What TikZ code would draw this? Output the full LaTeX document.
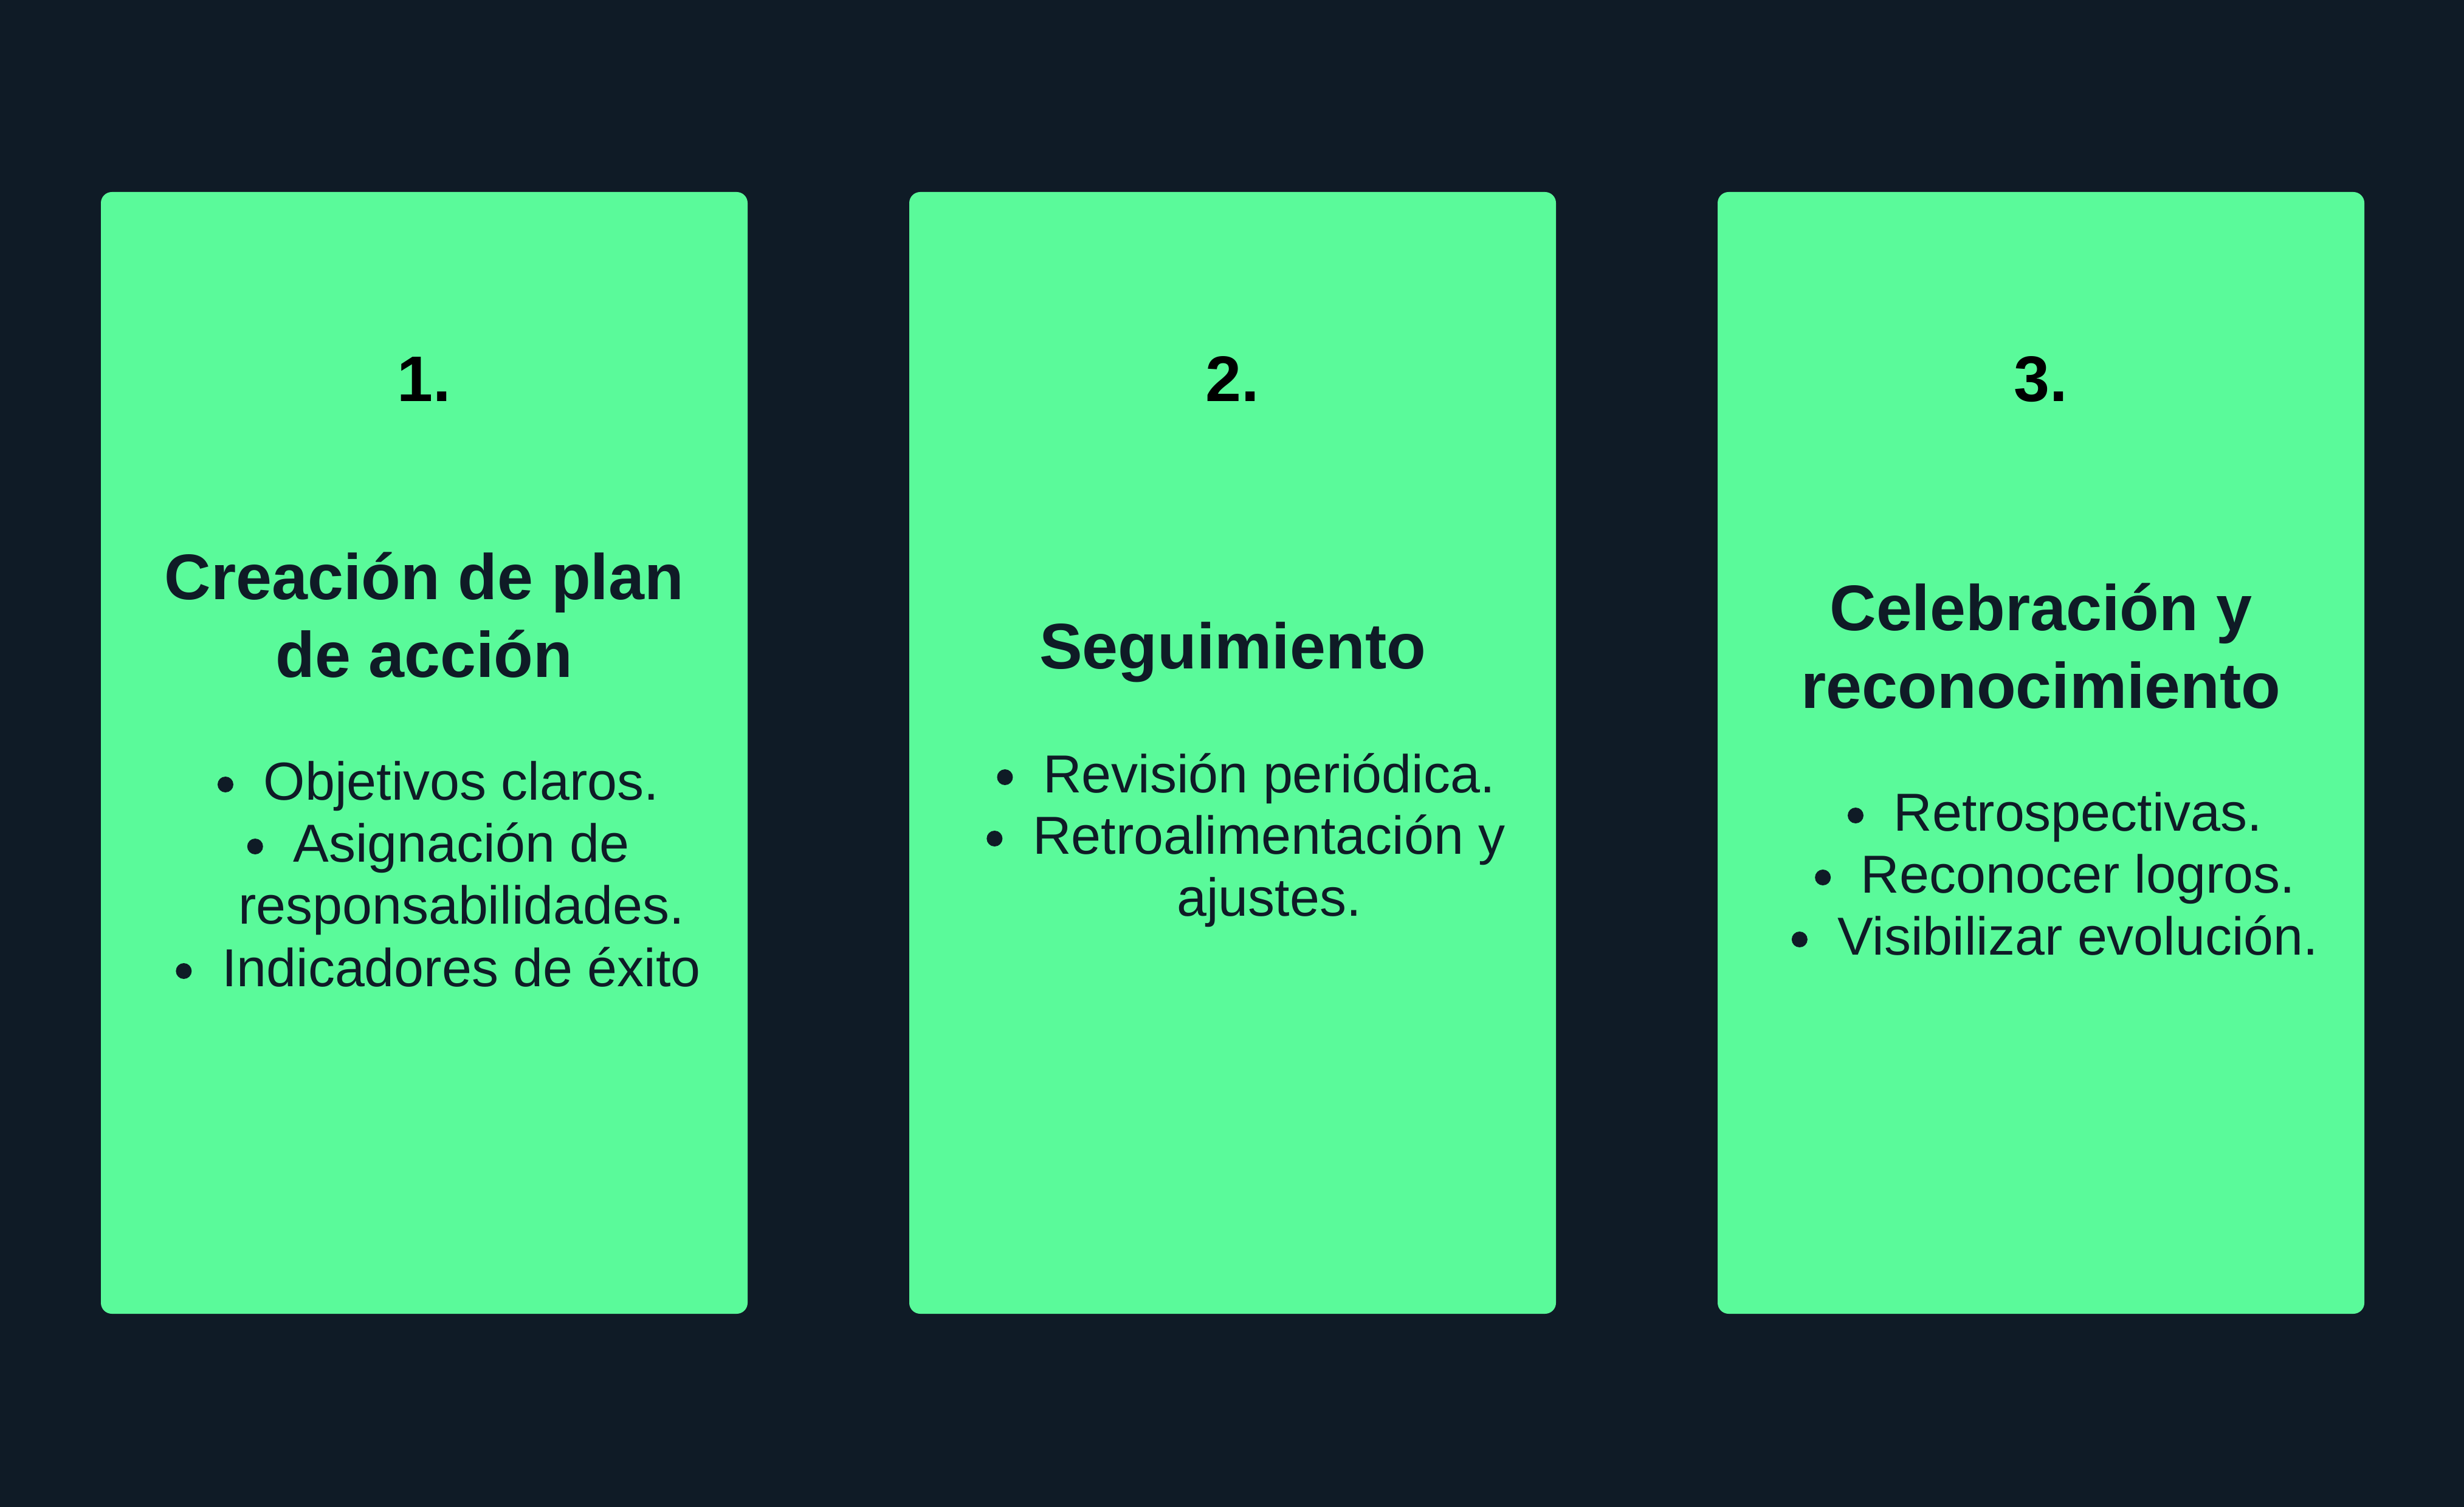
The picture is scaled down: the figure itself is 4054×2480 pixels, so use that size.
\documentclass[tikz,border=0pt]{standalone}
\usepackage{fontspec}
\setmainfont{Liberation Sans}
\usetikzlibrary{calc}
\definecolor{bgcol}{HTML}{0F1B26}
\definecolor{cardcol}{HTML}{5AFA9A}
\definecolor{inkcol}{HTML}{0F1B26}
\begin{document}
\begin{tikzpicture}[x=0.25pt,y=-0.25pt,
  cardbox/.style={fill=cardcol, draw=none, rounded corners=4.5pt, minimum width=266pt, minimum height=461.5pt, inner sep=0pt},
  numtext/.style={anchor=base, inner sep=0pt, font=\fontsize{26.5}{30}\selectfont\bfseries, text=black},
  headtext/.style={anchor=base, inner sep=0pt, font=\fontsize{26.5}{30}\selectfont\bfseries, text=inkcol},
  itemtext/.style={anchor=base, inner sep=0pt, font=\fontsize{22}{26}\selectfont, text=inkcol},
  bulletdot/.style={circle, fill=inkcol, draw=none, inner sep=0pt, minimum size=6.5pt}]
\fill[bgcol] (0,0) rectangle (4054,2480);
\useasboundingbox (0,0) rectangle (4054,2480);
% cards
\node[cardbox] (c1) at (698,1239) {};
\node[cardbox] (c2) at (2028,1239) {};
\node[cardbox] (c3) at (3358,1239) {};
% numbers
\node[numtext] (n1) at (698,661) {1.};
\node[numtext] (n2) at (2028,661) {2.};
\node[numtext] (n3) at (3358,661) {3.};
% card 1
\node[headtext] (h1a) at (698,987) {Creación de plan};
\node[headtext] (h1b) at (698,1114) {de acción};
\node[itemtext] (i1a) at (759,1316) {Objetivos claros.};
\node[itemtext] (i1b) at (759,1418) {Asignación de};
\node[itemtext] (i1c) at (759,1520) {responsabilidades.};
\node[itemtext] (i1d) at (759,1623) {Indicadores de éxito};
\node[bulletdot] (d1a) at ($(i1a.base west)+(-62,-25)$) {};
\node[bulletdot] (d1b) at ($(i1b.base west)+(-62,-25)$) {};
\node[bulletdot] (d1d) at ($(i1d.base west)+(-62,-25)$) {};
% card 2
\node[headtext] (h2a) at (2028,1100) {Seguimiento};
\node[itemtext] (i2a) at (2088,1304) {Revisión periódica.};
\node[itemtext] (i2b) at (2088,1405) {Retroalimentación y};
\node[itemtext] (i2c) at (2088,1507) {ajustes.};
\node[bulletdot] (d2a) at ($(i2a.base west)+(-62,-25)$) {};
\node[bulletdot] (d2b) at ($(i2b.base west)+(-62,-25)$) {};
% card 3
\node[headtext] (h3a) at (3358,1037) {Celebración y};
\node[headtext] (h3b) at (3358,1165) {reconocimiento};
\node[itemtext] (i3a) at (3419,1367) {Retrospectivas.};
\node[itemtext] (i3b) at (3419,1469) {Reconocer logros.};
\node[itemtext] (i3c) at (3419,1571) {Visibilizar evolución.};
\node[bulletdot] (d3a) at ($(i3a.base west)+(-62,-25)$) {};
\node[bulletdot] (d3b) at ($(i3b.base west)+(-62,-25)$) {};
\node[bulletdot] (d3c) at ($(i3c.base west)+(-62,-25)$) {};
\end{tikzpicture}
\end{document}
